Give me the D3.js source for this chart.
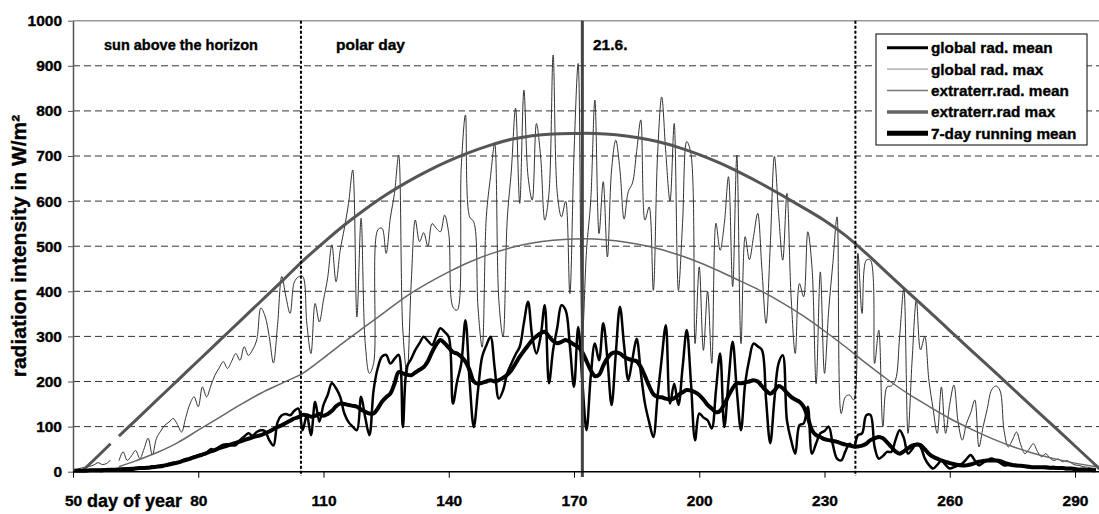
<!DOCTYPE html>
<html>
<head>
<meta charset="utf-8">
<script src="https://cdn.jsdelivr.net/npm/d3@7"></script>
<style>
    body { margin: 0; background: #fff; }
    text { font-family: "Liberation Sans", Arial, sans-serif; font-weight: bold; fill: #000; stroke: #000; stroke-width: 0.35px; }
</style>
</head>
<body>
<svg id="chart" width="1099" height="514"></svg>
<script>

// daily values, day 50 .. 295
var firstDay = 50;

var globalMean = [
    2, 2, 3, 3, 3, 4, 4, 5, 5, 6,
    6, 6, 7, 7, 8, 8, 10, 9, 8, 12,
    12, 14, 13, 17, 20, 19, 24, 28, 27, 33,
    36, 39, 42, 50, 48, 55, 60, 61, 58, 59,
    70, 78, 85, 80, 88, 92, 90, 70, 58, 110,
    125, 128, 125, 135, 140, 92, 125, 81, 155, 111,
    148, 170, 196, 185, 166, 129, 110, 100, 92, 166,
    120, 81, 181, 230, 255, 259, 240, 250, 259, 99,
    233, 250, 270, 285, 299, 290, 281, 300, 318, 310,
    299, 151, 200, 240, 336, 200, 99, 180, 255, 280,
    299, 230, 162, 180, 218, 240, 260, 277, 330, 377,
    299, 262, 300, 369, 196, 270, 320, 369, 358, 280,
    188, 321, 200, 92, 210, 284, 247, 329, 250, 148,
    260, 366, 280, 203, 250, 295, 220, 151, 110, 77,
    166, 250, 325, 151, 195, 148, 230, 314, 200, 70,
    129, 120, 114, 96, 180, 262, 99, 200, 288, 180,
    92, 196, 250, 284, 278, 270, 160, 63, 160, 240,
    258, 114, 70, 40, 103, 107, 144, 40, 63, 85,
    90, 100, 60, 29, 25, 45, 62, 55, 81, 85,
    125, 126, 55, 29, 35, 44, 44, 70, 92, 75,
    40, 50, 62, 55, 30, 15, 7, 15, 25, 15,
    7, 10, 14, 18, 28, 37, 25, 14, 20, 25,
    29, 25, 20, 14, 15, 14, 12, 13, 11, 10,
    10, 9, 9, 8, 8, 7, 7, 7, 6, 6,
    5, 5, 4, 4, 3, 3
];

var globalMax = [
    4, 6, 8, 10, 12, 15, 20, 16, 18, 26,
    null, 24, 44, 25, 35, 47, 29, 50, 74, 37,
    74, 90, 103, 110, 118, 105, 88, 120, 150, 166,
    144, 188, 166, 190, 214, 230, 244, 229, 245, 262,
    247, 277, 258, 270, 292, 363, 345, 300, 241, 326,
    433, 388, 351, 420, 432, 433, 329, 262, 373, 332,
    381, 430, 503, 421, 491, 540, 595, 669, 343, 562,
    284, 218, 240, 536, 540, 484, 562, 617, 702, 314,
    218, 417, 558, 510, 530, 500, 550, 540, 532, 569,
    528, 365, 358, 676, 791, 565, 554, 365, 276, 565,
    654, 727, 380, 299, 558, 669, 806, 595, 846, 654,
    602, 772, 700, 558, 617, 924, 617, 565, 600, 395,
    705, 905, 300, 491, 600, 824, 528, 643, 476, 669,
    735, 669, 560, 621, 640, 710, 780, 558, 587, 402,
    699, 831, 706, 600, 772, 402, 551, 732, 706, 284,
    454, 269, 400, 240, 551, 491, 550, 654, 410, 702,
    284, 521, 470, 521, 573, 450, 329, 500, 699, 573,
    469, 617, 388, 262, 417, 388, 532, 454, 195, 443,
    218, 358, 462, 565, 129, 166, 170, 159, 484, 351,
    469, 469, 240, 314, 100, 188, 190, 203, 300, 406,
    85, 250, 380, 270, 299, 203, 140, 85, 188, 85,
    150, 192, 110, 70, 107, 130, 159, 55, 100, 140,
    181, 190, 181, 92, 55, 70, 88, 60, 40, 50,
    62, 45, 33, 40, 30, 25, 28, 22, 25, 20,
    15, 14, 11, 10, 8, 7
];

var runningMean7 = [
    2, 2, 2, 2, 3, 3, 3, 3, 4, 4,
    4, 5, 5, 6, 6, 7, 8, 8, 9, 10,
    11, 12, 14, 16, 18, 20, 23, 26, 29, 32,
    35, 38, 41, 45, 48, 52, 55, 58, 61, 64,
    67, 70, 73, 76, 79, 81, 85, 89, 94, 99,
    103, 108, 113, 118, 121, 126, 125, 122, 124, 128,
    124, 128, 135, 145, 151, 150, 148, 146, 144, 138,
    133, 129, 129, 140, 155, 165, 173, 195, 221, 218,
    215, 214, 220, 226, 232, 245, 265, 282, 292, 285,
    275, 265, 262, 255, 244, 225, 200, 195, 197, 200,
    203, 200, 203, 208, 215, 225, 240, 255, 268, 280,
    292, 300, 307, 310, 300, 290, 285, 288, 292, 288,
    282, 277, 265, 245, 225, 212, 215, 235, 252, 262,
    265, 262, 255, 250, 247, 245, 232, 212, 190, 172,
    166, 165, 162, 160, 163, 170, 176, 181, 180, 176,
    170, 160, 148, 140, 132, 135, 150, 168, 185, 196,
    196, 198, 200, 203, 200, 190, 180, 173, 180, 190,
    185, 175, 166, 160, 155, 144, 120, 92, 81, 77,
    72, 70, 68, 66, 63, 60, 58, 56, 56, 58,
    62, 70, 74, 77, 74, 65, 55, 45, 40, 45,
    52, 58, 60, 59, 50, 40, 33, 29, 25, 22,
    19, 17, 15, 14, 14, 16, 19, 22, 24, 25,
    25, 25, 24, 20, 17, 15, 14, 13, 12, 11,
    10, 10, 10, 10, 9, 9, 8, 8, 7, 7,
    6, 5, 5, 4, 4, 3
];

// extraterrestrial radiation, read every 5 days
var extraMaxDays = [52, 55, 59, 60, 61, 65, 70, 75, 80, 85, 90, 95, 100, 105, 110, 115, 120, 125, 130, 135, 140, 145,
    150, 155, 160, 165, 170, 175, 180, 185, 190, 195, 200, 205, 210, 215, 220, 225, 230, 235, 240, 245, 250, 255,
    260, 265, 270, 275, 280, 285, 290, 295, 296];
var extraMax = [0, 26, 62, null, 79, 114, 158, 202, 246, 290, 334, 378, 422, 467, 508, 547, 582, 614, 642, 667, 689, 708,
    724, 737, 745, 749, 750, 750, 747, 741, 732, 719, 703, 684, 662, 638, 612, 585, 557, 524, 484, 441, 398, 356,
    313, 270, 228, 185, 142, 100, 57, 14, 5];

var extraMeanDays = [61, 65, 70, 75, 80, 85, 90, 95, 100, 105, 110, 115, 120, 125, 130, 135, 140, 145, 150, 155, 160,
    165, 170, 175, 180, 185, 190, 195, 200, 205, 210, 215, 220, 225, 230, 235, 240, 245, 250, 255, 260, 265, 270,
    275, 280, 285, 290, 295];
var extraMean = [11, 24, 42, 64, 92, 120, 148, 174, 196, 218, 252, 288, 322, 356, 390, 418, 443, 465, 483, 497, 507,
    513, 516, 516, 512, 505, 495, 481, 464, 444, 422, 400, 374, 345, 312, 277, 240, 205, 173, 145, 118, 95, 74,
    56, 41, 29, 19, 11];

var xTicks = [50, 80, 110, 140, 170, 200, 230, 260, 290];
var yTicks = [0, 100, 200, 300, 400, 500, 600, 700, 800, 900, 1000];
var markerDays = [104.6, 237.4];
var solsticeDay = 172;

var legendNames = ['global rad. mean', 'global rad. max', 'extraterr.rad. mean', 'extraterr.rad max', '7-day running mean'];
var legendColors = ['#000', '#888', '#777', '#666', '#000'];
var legendWidths = [3, 1, 1.5, 3.5, 5];

var svg = d3.select('#chart');
svg.append('rect').attr('width', 1099).attr('height', 514).attr('fill', '#fff');

var x = d3.scaleLinear().domain([50, 290]).range([73, 1075]);
var y = d3.scaleLinear().domain([0, 1000]).range([471.7, 20.7]);

// grid
svg.append('g').selectAll('line').data(yTicks.filter(function (d) { return d > 0 && d < 1000; }))
    .enter().append('line')
    .attr('x1', 73).attr('x2', 1099)
    .attr('y1', function (d) { return y(d); }).attr('y2', function (d) { return y(d); })
    .attr('stroke', '#333').attr('stroke-width', 1).attr('stroke-dasharray', '7,4');

svg.append('line').attr('x1', 73).attr('x2', 1099).attr('y1', y(1000)).attr('y2', y(1000))
    .attr('stroke', '#999').attr('stroke-width', 1.5);

function series(days, values) {
    return values.map(function (v, i) { return [days ? days[i] : firstDay + i, v]; });
}

function drawLine(data, color, width) {
    var line = d3.line()
        .defined(function (d) { return d[1] !== null; })
        .x(function (d) { return x(d[0]); })
        .y(function (d) { return y(d[1]); })
        .curve(d3.curveCatmullRom.alpha(0.5));
    svg.append('path').datum(data)
        .attr('d', line)
        .attr('fill', 'none')
        .attr('stroke', color)
        .attr('stroke-width', width)
        .attr('stroke-linejoin', 'round');
}

drawLine(series(null, globalMax), '#333', 1);
drawLine(series(extraMeanDays, extraMean), '#666', 1.5);
drawLine(series(extraMaxDays, extraMax), '#555', 3);
drawLine(series(null, globalMean), '#000', 2.5);
drawLine(series(null, runningMean7), '#000', 4);

// markers
svg.append('g').selectAll('line').data(markerDays).enter().append('line')
    .attr('x1', function (d) { return x(d); }).attr('x2', function (d) { return x(d); })
    .attr('y1', y(1000)).attr('y2', 476)
    .attr('stroke', '#000').attr('stroke-width', 2).attr('stroke-dasharray', '3,2');

svg.append('line')
    .attr('x1', x(solsticeDay)).attr('x2', x(solsticeDay))
    .attr('y1', y(1000)).attr('y2', 477)
    .attr('stroke', '#444').attr('stroke-width', 3);

// axes
var yAxis = svg.append('g').attr('transform', 'translate(73,0)')
    .call(d3.axisLeft(y).tickValues(yTicks).tickFormat(d3.format('d')).tickSize(5).tickPadding(6).tickSizeOuter(0));
yAxis.select('.domain').attr('stroke', '#555').attr('stroke-width', 1.5);
yAxis.selectAll('.tick line').attr('stroke', '#555');
yAxis.selectAll('text').attr('font-size', '15.5px').attr('font-family', null);

var xAxis = svg.append('g').attr('transform', 'translate(0,' + y(0) + ')')
    .call(d3.axisBottom(x).tickValues(xTicks).tickFormat(d3.format('d')).tickSize(6).tickPadding(17).tickSizeOuter(0));
xAxis.select('.domain').attr('d', 'M73,0H1099').attr('stroke', '#000').attr('stroke-width', 1.5);
xAxis.selectAll('text').attr('font-size', '15.5px').attr('font-family', null);

svg.append('text').attr('x', 87).attr('y', 507).attr('font-size', '18px').text('day of year');

svg.append('text')
    .attr('transform', 'translate(26,246) rotate(-90)')
    .attr('text-anchor', 'middle')
    .attr('font-size', '21px')
    .text('radiation intensity in W/m²');

// annotations
svg.append('text').attr('x', 104).attr('y', 50).attr('font-size', '14.5px').text('sun above the horizon');
svg.append('text').attr('x', 336).attr('y', 50).attr('font-size', '15.5px').text('polar day');
svg.append('text').attr('x', 593).attr('y', 50).attr('font-size', '15.5px').text('21.6.');

// legend
var legend = svg.append('g');
legend.append('rect').attr('x', 876).attr('y', 34).attr('width', 211).attr('height', 111)
    .attr('fill', '#fff').attr('stroke', '#000').attr('stroke-width', 1);
var rows = legend.selectAll('g.row').data(legendNames).enter().append('g')
    .attr('class', 'row')
    .attr('transform', function (d, i) { return 'translate(0,' + (47.7 + i * 21.4) + ')'; });
rows.append('line').attr('x1', 887).attr('x2', 928).attr('y1', 0).attr('y2', 0)
    .attr('stroke', function (d, i) { return legendColors[i]; })
    .attr('stroke-width', function (d, i) { return legendWidths[i]; });
rows.append('text').attr('x', 931).attr('y', 5.5).attr('font-size', '15.3px').text(function (d) { return d; });

</script>
</body>
</html>
